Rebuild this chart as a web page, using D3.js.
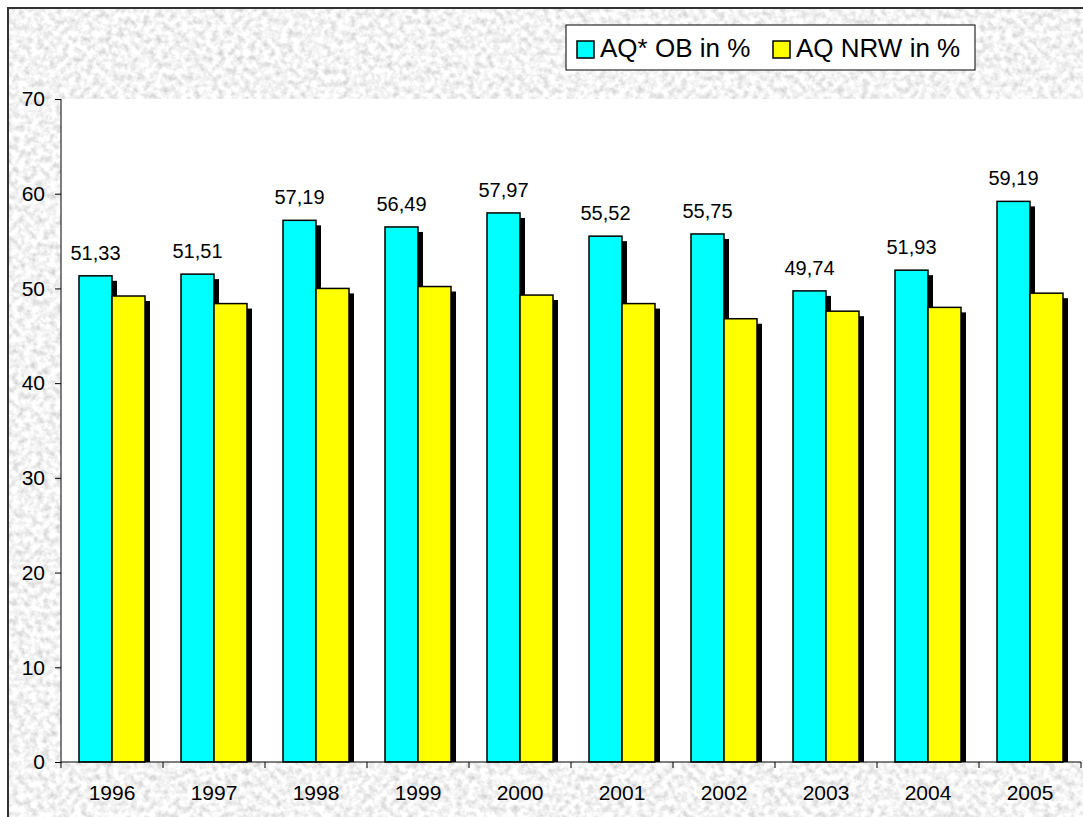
<!DOCTYPE html>
<html>
<head>
<meta charset="utf-8">
<script src="https://cdn.jsdelivr.net/npm/d3@7"></script>
<style>
  body { margin: 0; background: #fff; overflow: hidden; }
  text { font-family: "Liberation Sans", Arial, sans-serif; fill: #000; }
</style>
</head>
<body>
<svg width="1083" height="817"></svg>
<script>
var years = ["1996", "1997", "1998", "1999", "2000", "2001", "2002", "2003", "2004", "2005"];
var seriesNames = ["AQ* OB in %", "AQ NRW in %"];
var aqOB = [51.33, 51.51, 57.19, 56.49, 57.97, 55.52, 55.75, 49.74, 51.93, 59.19];
var aqNRW = [49.2, 48.4, 50.0, 50.2, 49.3, 48.4, 46.8, 47.6, 48.0, 49.5];
var yTicks = [0, 10, 20, 30, 40, 50, 60, 70];
var colors = ["#00ffff", "#ffff00"];

var svg = d3.select("svg"),
    width = +svg.attr("width"),
    height = +svg.attr("height");

var plot = { left: 61, right: 1081, top: 99, bottom: 762 };

// granite-like paper texture for the chart area
var defs = svg.append("defs");
var f = defs.append("filter").attr("id", "paper")
    .attr("x", 0).attr("y", 0).attr("width", 1).attr("height", 1);
f.append("feTurbulence")
    .attr("type", "fractalNoise")
    .attr("baseFrequency", 0.16)
    .attr("numOctaves", 4)
    .attr("seed", 7);
f.append("feColorMatrix")
    .attr("type", "matrix")
    .attr("values", "0.7 0 0 0 0.55  0.7 0 0 0 0.55  0.7 0 0 0 0.55  0 0 0 0 1");

svg.append("rect")
    .attr("x", 8).attr("y", 8)
    .attr("width", width).attr("height", height)
    .attr("filter", "url(#paper)");
svg.append("rect")
    .attr("x", 8).attr("y", 8)
    .attr("width", width).attr("height", height)
    .attr("fill", "none")
    .attr("stroke", "#333")
    .attr("stroke-width", 2);

// plot area
svg.append("rect")
    .attr("x", plot.left).attr("y", plot.top)
    .attr("width", width - plot.left).attr("height", plot.bottom - plot.top)
    .attr("fill", "#fff");

var x = d3.scaleBand()
    .domain(years)
    .range([plot.left, plot.right]);

var x1 = d3.scaleBand()
    .domain(seriesNames)
    .range([18, x.bandwidth() - 18]);

var y = d3.scaleLinear()
    .domain([0, 70])
    .range([plot.bottom, plot.top]);

var data = years.map(function(yr, i) {
  return { year: yr, values: [aqOB[i], aqNRW[i]] };
});

var groups = svg.append("g")
  .selectAll("g")
  .data(data)
  .enter().append("g")
    .attr("transform", function(d) { return "translate(" + x(d.year) + ",0)"; });

// shadows first
groups.selectAll("rect.shadow")
  .data(function(d) { return d.values.map(function(v, k) { return { k: k, v: v }; }); })
  .enter().append("rect")
    .attr("class", "shadow")
    .attr("x", function(d) { return x1(seriesNames[d.k]) + 5; })
    .attr("y", function(d) { return y(d.v) + 5; })
    .attr("width", x1.bandwidth())
    .attr("height", function(d) { return plot.bottom - y(d.v) - 5; })
    .attr("fill", "#000");

groups.selectAll("rect.bar")
  .data(function(d) { return d.values.map(function(v, k) { return { k: k, v: v }; }); })
  .enter().append("rect")
    .attr("class", "bar")
    .attr("x", function(d) { return x1(seriesNames[d.k]); })
    .attr("y", function(d) { return y(d.v); })
    .attr("width", x1.bandwidth())
    .attr("height", function(d) { return plot.bottom - y(d.v); })
    .attr("fill", function(d) { return colors[d.k]; })
    .attr("stroke", "#000")
    .attr("stroke-width", 1.5);

// value labels on first series
groups.append("text")
    .attr("x", x1(seriesNames[0]) + x1.bandwidth() / 2)
    .attr("y", function(d) { return y(d.values[0]) - 16; })
    .attr("text-anchor", "middle")
    .style("font-size", "20px")
    .text(function(d) { return d3.format(".2f")(d.values[0]).replace(".", ","); });

// y axis
var yAxis = svg.append("g")
    .attr("transform", "translate(" + plot.left + ",0)")
    .call(d3.axisLeft(y).tickValues(yTicks).tickSize(6).tickPadding(10));
yAxis.select(".domain").attr("stroke", "#000").attr("d", "M0," + plot.bottom + "V" + plot.top);
yAxis.selectAll("text").style("font-size", "21px").attr("fill", "#000");

// x axis labels
var xAxis = svg.append("g")
    .attr("transform", "translate(0," + plot.bottom + ")")
    .call(d3.axisBottom(x).tickSize(0).tickPadding(23));
xAxis.select(".domain").remove();
xAxis.selectAll("text").style("font-size", "21px").attr("fill", "#000");

// x axis line + boundary ticks
var bounds = years.map(function(yr) { return x(yr); }).concat([plot.right]);
svg.append("line")
    .attr("x1", plot.left).attr("x2", plot.right)
    .attr("y1", plot.bottom).attr("y2", plot.bottom)
    .attr("stroke", "#000");
svg.append("g").selectAll("line")
  .data(bounds)
  .enter().append("line")
    .attr("x1", function(d) { return d; }).attr("x2", function(d) { return d; })
    .attr("y1", plot.bottom).attr("y2", plot.bottom + 6)
    .attr("stroke", "#000");

// legend
var legend = svg.append("g").attr("transform", "translate(566,25)");
legend.append("rect")
    .attr("width", 409).attr("height", 45)
    .attr("fill", "#fff").attr("stroke", "#000");
var legendX = [11, 207];
var items = legend.selectAll("g.item")
  .data(seriesNames)
  .enter().append("g")
    .attr("class", "item")
    .attr("transform", function(d, i) { return "translate(" + legendX[i] + ",16)"; });
items.append("rect")
    .attr("width", 17).attr("height", 17)
    .attr("fill", function(d, i) { return colors[i]; })
    .attr("stroke", "#000").attr("stroke-width", 1.5);
items.append("text")
    .attr("x", 23).attr("y", 16)
    .style("font-size", "26px")
    .text(function(d) { return d; });
</script>
</body>
</html>
